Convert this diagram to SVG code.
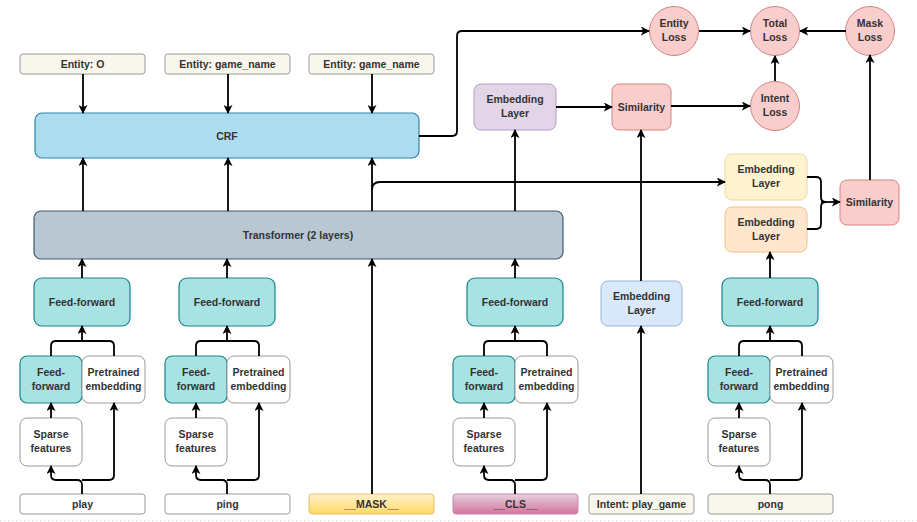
<svg xmlns="http://www.w3.org/2000/svg" width="917" height="522" viewBox="0 0 917 522">
<defs>
<marker id="arr" viewBox="0 0 10 10" refX="9" refY="5" markerWidth="9" markerHeight="9" markerUnits="userSpaceOnUse" orient="auto">
<path d="M0,0 L10,5 L0,10 L2.5,5 z" fill="#000"/>
</marker>
<linearGradient id="gMask" x1="0" y1="0" x2="0" y2="1"><stop offset="0" stop-color="#fff2cc"/><stop offset="1" stop-color="#ffd966"/></linearGradient>
<linearGradient id="gCls" x1="0" y1="0" x2="0" y2="1"><stop offset="0" stop-color="#e6d0de"/><stop offset="1" stop-color="#d5739d"/></linearGradient>
</defs>
<style>
text{font-family:"Liberation Sans",Arial,Helvetica,sans-serif;font-weight:bold;font-size:10.5px;fill:#333;text-anchor:middle}
.lbl{fill:#f9f7ed;stroke:#9a9a9a;stroke-width:1}
.wht{fill:#fff;stroke:#9a9a9a;stroke-width:1}
.ff{fill:#a8e2e2;stroke:#16858b;stroke-width:1.2}
.crf{fill:#addcef;stroke:#2a86ad;stroke-width:1.2}
.tr{fill:#b8c7d1;stroke:#3d5b73;stroke-width:1.2}
.pur{fill:#e1d5e7;stroke:#b39dc4;stroke-width:1}
.red{fill:#f9cdcc;stroke:#d28583;stroke-width:1}
.yel{fill:#fff3d0;stroke:#efd79a;stroke-width:1}
.org{fill:#ffe6cc;stroke:#ecc58a;stroke-width:1}
.blu{fill:#dae8fc;stroke:#99b3da;stroke-width:1}
.msk{fill:url(#gMask);stroke:#e2c06a;stroke-width:1}
.cls{fill:url(#gCls);stroke:#c587a5;stroke-width:1}
#connectors path{fill:none;stroke:#000;stroke-width:1.8}
#connectors path.a{marker-end:url(#arr)}
</style>
<rect width="917" height="522" fill="#fff"/>
<line x1="0" y1="520.5" x2="917" y2="520.5" stroke="#d8d8d8" stroke-width="1" stroke-dasharray="1 3"/>

<!-- Top entity labels -->
<g id="entity-o"><rect class="lbl" x="20" y="54" width="125" height="20" rx="3"/><text x="82.5" y="68">Entity: O</text></g>
<g id="entity-game1"><rect class="lbl" x="165" y="54" width="125" height="20" rx="3"/><text x="227.5" y="68">Entity: game_name</text></g>
<g id="entity-game2"><rect class="lbl" x="309" y="54" width="125" height="20" rx="3"/><text x="371.5" y="68">Entity: game_name</text></g>

<g id="crf"><rect class="crf" x="35" y="113" width="384" height="45" rx="7"/><text x="227" y="140">CRF</text></g>
<g id="transformer"><rect class="tr" x="34" y="211" width="529" height="48" rx="7"/><text x="298" y="239">Transformer (2 layers)</text></g>

<!-- Losses -->
<g id="entity-loss"><circle class="red" cx="674" cy="31" r="24.5"/><text x="674" y="27">Entity</text><text x="674" y="41">Loss</text></g>
<g id="total-loss"><circle class="red" cx="775" cy="31" r="24.5"/><text x="775" y="27">Total</text><text x="775" y="41">Loss</text></g>
<g id="mask-loss"><circle class="red" cx="870" cy="31" r="24.5"/><text x="870" y="27">Mask</text><text x="870" y="41">Loss</text></g>
<g id="intent-loss"><circle class="red" cx="775" cy="106" r="24.5"/><text x="775" y="102">Intent</text><text x="775" y="116">Loss</text></g>

<g id="emb-cls"><rect class="pur" x="474" y="84" width="82" height="46" rx="7"/><text x="515" y="103">Embedding</text><text x="515" y="117">Layer</text></g>
<g id="sim-intent"><rect class="red" x="612" y="84" width="59" height="46" rx="7"/><text x="641.5" y="111">Similarity</text></g>
<g id="emb-mask"><rect class="yel" x="725" y="154" width="82" height="46" rx="7"/><text x="766" y="173">Embedding</text><text x="766" y="187">Layer</text></g>
<g id="emb-pong"><rect class="org" x="725" y="207" width="82" height="45" rx="7"/><text x="766" y="226">Embedding</text><text x="766" y="240">Layer</text></g>
<g id="sim-mask"><rect class="red" x="840" y="180" width="59" height="45" rx="7"/><text x="869.5" y="206">Similarity</text></g>
<g id="emb-intent"><rect class="blu" x="601" y="281" width="81" height="45" rx="7"/><text x="641.5" y="300">Embedding</text><text x="641.5" y="314">Layer</text></g>

<!-- Column 1: play -->
<g id="ff-play"><rect class="ff" x="34" y="278" width="96" height="48" rx="8"/><text x="82" y="306">Feed-forward</text></g>
<g id="ffs-play"><rect class="ff" x="20" y="356" width="62" height="47" rx="7"/><text x="51" y="376">Feed-</text><text x="51" y="390">forward</text></g>
<g id="pre-play"><rect class="wht" x="82" y="356" width="63" height="47" rx="7"/><text x="113.5" y="376">Pretrained</text><text x="113.5" y="390">embedding</text></g>
<g id="sp-play"><rect class="wht" x="20" y="418" width="62" height="48" rx="7"/><text x="51" y="438">Sparse</text><text x="51" y="452">features</text></g>
<g id="in-play"><rect class="wht" x="20" y="494" width="125" height="20" rx="3"/><text x="82.5" y="508">play</text></g>

<!-- Column 2: ping -->
<g id="ff-ping"><rect class="ff" x="179" y="278" width="96" height="48" rx="8"/><text x="227" y="306">Feed-forward</text></g>
<g id="ffs-ping"><rect class="ff" x="165" y="356" width="62" height="47" rx="7"/><text x="196" y="376">Feed-</text><text x="196" y="390">forward</text></g>
<g id="pre-ping"><rect class="wht" x="227" y="356" width="63" height="47" rx="7"/><text x="258.5" y="376">Pretrained</text><text x="258.5" y="390">embedding</text></g>
<g id="sp-ping"><rect class="wht" x="165" y="418" width="62" height="48" rx="7"/><text x="196" y="438">Sparse</text><text x="196" y="452">features</text></g>
<g id="in-ping"><rect class="wht" x="165" y="494" width="125" height="20" rx="3"/><text x="227.5" y="508">ping</text></g>

<g id="in-mask"><rect class="msk" x="309" y="494" width="125" height="20" rx="3"/><text x="371.5" y="508">__MASK__</text></g>

<!-- Column 3: CLS -->
<g id="ff-cls"><rect class="ff" x="467" y="278" width="96" height="48" rx="8"/><text x="515" y="306">Feed-forward</text></g>
<g id="ffs-cls"><rect class="ff" x="453" y="356" width="62" height="47" rx="7"/><text x="484" y="376">Feed-</text><text x="484" y="390">forward</text></g>
<g id="pre-cls"><rect class="wht" x="515" y="356" width="63" height="47" rx="7"/><text x="546.5" y="376">Pretrained</text><text x="546.5" y="390">embedding</text></g>
<g id="sp-cls"><rect class="wht" x="453" y="418" width="62" height="48" rx="7"/><text x="484" y="438">Sparse</text><text x="484" y="452">features</text></g>
<g id="in-cls"><rect class="cls" x="453" y="494" width="125" height="20" rx="3"/><text x="515.5" y="508">__CLS__</text></g>

<g id="in-intent"><rect class="lbl" x="589" y="494" width="105" height="20" rx="3"/><text x="641.5" y="508">Intent: play_game</text></g>

<!-- Column 4: pong -->
<g id="ff-pong"><rect class="ff" x="722" y="278" width="96" height="48" rx="8"/><text x="770" y="306">Feed-forward</text></g>
<g id="ffs-pong"><rect class="ff" x="708" y="356" width="62" height="47" rx="7"/><text x="739" y="376">Feed-</text><text x="739" y="390">forward</text></g>
<g id="pre-pong"><rect class="wht" x="770" y="356" width="63" height="47" rx="7"/><text x="801.5" y="376">Pretrained</text><text x="801.5" y="390">embedding</text></g>
<g id="sp-pong"><rect class="wht" x="708" y="418" width="62" height="48" rx="7"/><text x="739" y="438">Sparse</text><text x="739" y="452">features</text></g>
<g id="in-pong"><rect class="lbl" x="708" y="494" width="125" height="20" rx="3"/><text x="770.5" y="508">pong</text></g>

<g id="connectors">
<path class="a" d="M83,74 V113"/>
<path class="a" d="M228,74 V113"/>
<path class="a" d="M372,74 V113"/>
<path class="a" d="M83,211 V158"/>
<path class="a" d="M228,211 V158"/>
<path class="a" d="M372,211 V158"/>
<path class="a" d="M372,190 Q372,182 380,182 H725"/>
<path class="a" d="M419,136 H452 Q457,136 457,131 V36 Q457,31 462,31 H649"/>
<path class="a" d="M699,31 H750"/>
<path class="a" d="M846,31 H800"/>
<path class="a" d="M775,81 V56"/>
<path class="a" d="M556,107 H612"/>
<path class="a" d="M671,106 H750"/>
<path class="a" d="M515,211 V130"/>
<path class="a" d="M641,281 V130"/>
<path class="a" d="M641,494 V326"/>
<path d="M807,177 H816 Q821,177 821,182 V197 Q821,202 826,202"/>
<path d="M807,229 H816 Q821,229 821,224 V207 Q821,202 826,202"/>
<path class="a" d="M821,202 H840"/>
<path class="a" d="M870,180 V55"/>
<path class="a" d="M770,278 V252"/>
<path class="a" d="M82,278 V259"/>
<path class="a" d="M227,278 V259"/>
<path class="a" d="M515,278 V259"/>
<path class="a" d="M372,494 V259"/>
<!-- col1 -->
<path d="M51,356 V346 Q51,341 56,341 H109 Q114,341 114,346 V356"/>
<path class="a" d="M82,341 V326"/>
<path class="a" d="M51,418 V403"/>
<path class="a" d="M82,494 V485 Q82,480 77,480 H56 Q51,480 51,475 V466"/>
<path class="a" d="M82,480 H109 Q114,480 114,475 V403"/>
<!-- col2 -->
<path d="M196,356 V346 Q196,341 201,341 H254 Q259,341 259,346 V356"/>
<path class="a" d="M227,341 V326"/>
<path class="a" d="M196,418 V403"/>
<path class="a" d="M227,494 V485 Q227,480 222,480 H201 Q196,480 196,475 V466"/>
<path class="a" d="M227,480 H254 Q259,480 259,475 V403"/>
<!-- col3 -->
<path d="M484,356 V346 Q484,341 489,341 H542 Q547,341 547,346 V356"/>
<path class="a" d="M515,341 V326"/>
<path class="a" d="M484,418 V403"/>
<path class="a" d="M515,494 V485 Q515,480 510,480 H489 Q484,480 484,475 V466"/>
<path class="a" d="M515,480 H542 Q547,480 547,475 V403"/>
<!-- col4 -->
<path d="M739,356 V346 Q739,341 744,341 H797 Q802,341 802,346 V356"/>
<path class="a" d="M770,341 V326"/>
<path class="a" d="M739,418 V403"/>
<path class="a" d="M770,494 V485 Q770,480 765,480 H744 Q739,480 739,475 V466"/>
<path class="a" d="M770,480 H797 Q802,480 802,475 V403"/>
</g>
</svg>
